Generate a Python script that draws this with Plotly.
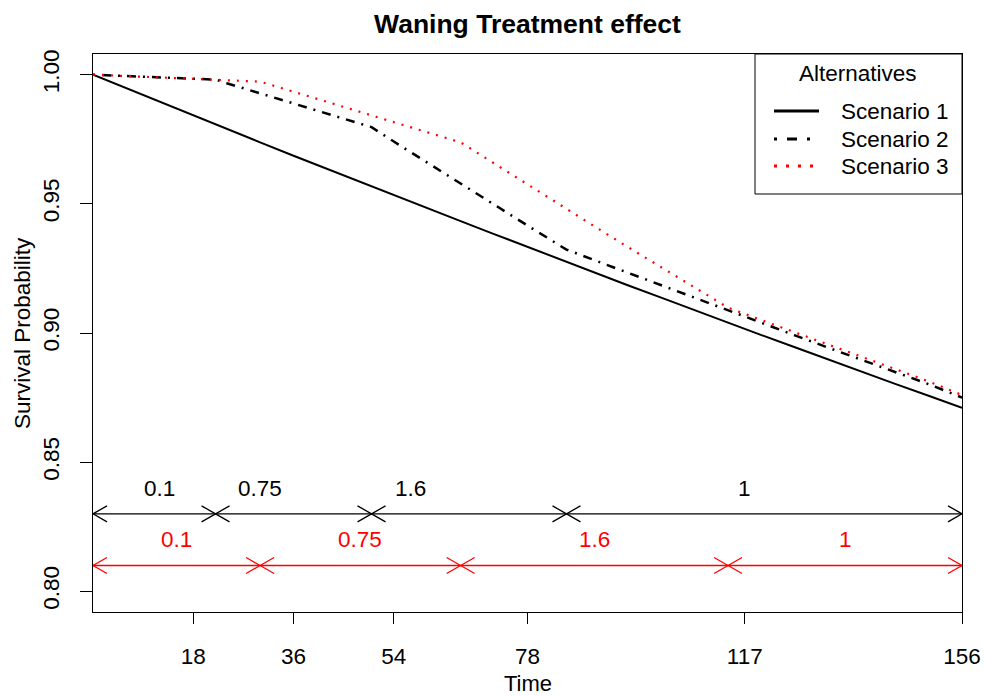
import plotly.graph_objects as go

# ---------------- data ----------------
times = [0, 6, 12, 18, 22, 24, 30, 36, 42, 48, 50, 54, 60, 66, 72, 78, 84, 85,
         90, 96, 102, 108, 114, 120, 126, 132, 138, 144, 150, 156]
scenario1 = [1.0000, 0.9947, 0.9894, 0.9842, 0.9807, 0.9790, 0.9738, 0.9686, 0.9635, 0.9584,
             0.9567, 0.9533, 0.9483, 0.9433, 0.9383, 0.9333, 0.9284, 0.9275, 0.9234, 0.9185,
             0.9137, 0.9088, 0.9040, 0.8992, 0.8945, 0.8897, 0.8850, 0.8803, 0.8757, 0.8710]
scenario2 = [1.0000, 0.9995, 0.9989, 0.9984, 0.9981, 0.9967, 0.9928, 0.9888, 0.9849, 0.9810,
             0.9797, 0.9741, 0.9659, 0.9577, 0.9496, 0.9416, 0.9336, 0.9323, 0.9282, 0.9233,
             0.9184, 0.9135, 0.9087, 0.9039, 0.8991, 0.8943, 0.8896, 0.8849, 0.8802, 0.8750]
scenario3 = [1.0000, 0.9995, 0.9989, 0.9984, 0.9981, 0.9979, 0.9973, 0.9934, 0.9894, 0.9855,
             0.9842, 0.9816, 0.9777, 0.9738, 0.9656, 0.9574, 0.9493, 0.9479, 0.9413, 0.9333,
             0.9254, 0.9176, 0.9098, 0.9050, 0.9002, 0.8954, 0.8907, 0.8860, 0.8813, 0.8760]
series_names = ["Scenario 1", "Scenario 2", "Scenario 3"]

black_breaks = [0, 22, 50, 85, 156]
black_labels = ["0.1", "0.75", "1.6", "1"]
black_label_x = [12, 30, 57, 117]
black_level = 0.83

red_breaks = [0, 30, 66, 114, 156]
red_labels = ["0.1", "0.75", "1.6", "1"]
red_label_x = [15, 48, 90, 135]
red_level = 0.81

x_ticks = [18, 36, 54, 78, 117, 156]
y_ticks = [0.80, 0.85, 0.90, 0.95, 1.00]
y_tick_text = ["0.80", "0.85", "0.90", "0.95", "1.00"]

x_range = [0, 156]
y_range = [0.792, 1.008]

# ---------------- style ----------------
FONT = "Liberation Sans, Arial, sans-serif"
W, H = 985, 696
ML, MR, MT, MB = 93, 23, 54, 84
PW, PH = W - ML - MR, H - MT - MB
px_per_x = PW / (x_range[1] - x_range[0])
px_per_y = PH / (y_range[1] - y_range[0])
HEAD_DX = 14 / px_per_x
HEAD_DY = 8 / px_per_y

RED = "#FF0000"
curve_styles = [
    dict(color="black", width=2, dash="solid"),
    dict(color="black", width=2.5, dash="2px,7px,9px,7px"),
    dict(color=RED, width=2.2, dash="2px,7px"),
]
legend_styles = [
    dict(color="black", width=3, dash="solid"),
    dict(color="black", width=3, dash="3px,10px,10px,10px"),
    dict(color=RED, width=3, dash="3px,9px"),
]

fig = go.Figure()

for name, ys, st in zip(series_names, [scenario1, scenario2, scenario3], curve_styles):
    fig.add_trace(go.Scatter(x=times, y=ys, mode="lines", name=name, line=st,
                             showlegend=False, hoverinfo="x+y+name"))


def arrow_path(breaks, level):
    xs, ys = [], []
    for a, b in zip(breaks[:-1], breaks[1:]):
        xs += [a, b, None]
        ys += [level, level, None]
        xs += [a + HEAD_DX, a, a + HEAD_DX, None]
        ys += [level + HEAD_DY, level, level - HEAD_DY, None]
        xs += [b - HEAD_DX, b, b - HEAD_DX, None]
        ys += [level + HEAD_DY, level, level - HEAD_DY, None]
    return xs, ys


for breaks, level, col in [(black_breaks, black_level, "black"), (red_breaks, red_level, RED)]:
    ax, ay = arrow_path(breaks, level)
    fig.add_trace(go.Scatter(x=ax, y=ay, mode="lines", line=dict(color=col, width=1.3),
                             showlegend=False, hoverinfo="skip"))

annotations = []
for lab, xv in zip(black_labels, black_label_x):
    annotations.append(dict(x=xv, y=black_level + 0.01, xref="x", yref="y", text=lab,
                            showarrow=False, font=dict(family=FONT, size=22.5, color="black"),
                            xanchor="center", yanchor="middle"))
for lab, xv in zip(red_labels, red_label_x):
    annotations.append(dict(x=xv, y=red_level + 0.01, xref="x", yref="y", text=lab,
                            showarrow=False, font=dict(family=FONT, size=22.5, color=RED),
                            xanchor="center", yanchor="middle"))

# axis titles
annotations.append(dict(x=0.5, y=0, xref="paper", yref="paper", text="Time", showarrow=False,
                        yshift=-71, xanchor="center", yanchor="middle",
                        font=dict(family=FONT, size=22, color="black")))
annotations.append(dict(x=0, y=0.5, xref="paper", yref="paper", text="Survival Probability",
                        showarrow=False, xshift=-71, textangle=-90, xanchor="center",
                        yanchor="middle", font=dict(family=FONT, size=22.5, color="black")))


# manual legend (R-style box)
def px2paper_x(px):
    return (px - ML) / PW


def px2paper_y(py):
    return (H - MB - py) / PH


shapes = [dict(type="rect", xref="paper", yref="paper",
               x0=px2paper_x(755), x1=1.0, y0=px2paper_y(194), y1=1.0,
               line=dict(color="black", width=1), fillcolor="white", layer="above")]
annotations.append(dict(x=px2paper_x(858), y=px2paper_y(73), xref="paper", yref="paper",
                        text="Alternatives", showarrow=False, xanchor="center", yanchor="middle",
                        font=dict(family=FONT, size=22.5, color="black")))
row_y = [111, 139, 166]
for name, st, ry in zip(series_names, legend_styles, row_y):
    shapes.append(dict(type="line", xref="paper", yref="paper",
                       x0=px2paper_x(774), x1=px2paper_x(819),
                       y0=px2paper_y(ry), y1=px2paper_y(ry), line=st, layer="above"))
    annotations.append(dict(x=px2paper_x(839), y=px2paper_y(ry), xref="paper", yref="paper",
                            text=name, showarrow=False, xanchor="left", yanchor="middle",
                            font=dict(family=FONT, size=22.5, color="black")))

fig.update_layout(
    template="none",
    width=W, height=H, autosize=False,
    margin=dict(l=ML, r=MR, t=MT, b=MB, pad=0, autoexpand=False),
    paper_bgcolor="white", plot_bgcolor="white",
    title=dict(text="<b>Waning Treatment effect</b>", x=0.5, xref="paper", xanchor="center",
               y=1 - 24 / H, yref="container", yanchor="middle", automargin=False,
               font=dict(family=FONT, size=26.5, color="black")),
    font=dict(family=FONT, size=22.5, color="black"),
    xaxis=dict(range=x_range, tickvals=x_ticks, ticktext=[str(v) for v in x_ticks],
               automargin=False, showgrid=False, zeroline=False, showline=True, mirror=True,
               linecolor="black", linewidth=1, ticks="outside", ticklen=11, tickwidth=1,
               tickcolor="black", ticklabelstandoff=13, ticklabeloverflow="allow",
               tickfont=dict(family=FONT, size=22.5, color="black")),
    yaxis=dict(range=y_range, tickvals=y_ticks, ticktext=y_tick_text,
               automargin=False, showgrid=False, zeroline=False, showline=True, mirror=True,
               linecolor="black", linewidth=1, ticks="outside", ticklen=12, tickwidth=1,
               tickcolor="black", tickangle=-90, ticklabelstandoff=12,
               tickfont=dict(family=FONT, size=22.5, color="black")),
    shapes=shapes,
    annotations=annotations,
    showlegend=False,
)

fig.write_html("out.html")
